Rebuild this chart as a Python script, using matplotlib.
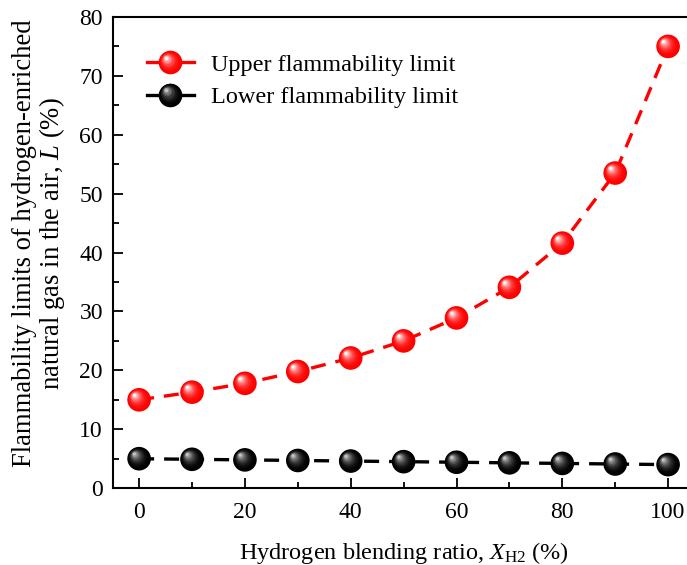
import matplotlib
matplotlib.use("Agg")
import matplotlib.pyplot as plt
import numpy as np
from matplotlib.transforms import offset_copy
from matplotlib.legend_handler import HandlerBase
from matplotlib.lines import Line2D
from matplotlib.colors import to_rgb

plt.rcParams['font.family'] = ['Liberation Serif', 'DejaVu Serif']
plt.rcParams['mathtext.fontset'] = 'custom'
plt.rcParams['mathtext.rm'] = 'Liberation Serif'
plt.rcParams['mathtext.it'] = 'Liberation Serif:italic'

x_ratio = [0, 10, 20, 30, 40, 50, 60, 70, 80, 90, 100]
upper_limit = [15.0, 16.3, 17.8, 19.8, 22.1, 25.0, 28.9, 34.1, 41.6, 53.5, 75.0]
lower_limit = [5.0, 4.9, 4.8, 4.7, 4.6, 4.5, 4.4, 4.3, 4.2, 4.1, 4.0]
series_names = ["Upper flammability limit", "Lower flammability limit"]
series_colors = ["#ff0000", "#000000"]
highlight_colors = ["#ffffff", "#c8c8c8"]
x_ticks = [0, 20, 40, 60, 80, 100]
y_ticks = [0, 10, 20, 30, 40, 50, 60, 70, 80]

fig = plt.figure(figsize=(6.87, 5.65), dpi=100)
ax = fig.add_axes([0.164, 0.136, 0.847, 0.834])

MS = 17.0  # marker diameter in points
NLAY = 10


def layer_specs(base, hi):
    b = np.array(to_rgb(base))
    h = np.array(to_rgb(hi))
    specs = []
    for i in range(NLAY):
        t = i / (NLAY - 1)
        size = MS * (1 - 0.88 * t)
        w = t ** 2.2
        col = b * (1 - w) + h * w
        off = 0.2 * MS * t
        specs.append((size, col, -off, off))
    return specs


def draw_spheres(xs, ys, base, hi, z):
    for k, (size, col, dx, dy) in enumerate(layer_specs(base, hi)):
        tr = offset_copy(ax.transData, fig=fig, x=dx, y=dy, units='points')
        ax.scatter(xs, ys, s=size ** 2, color=[col], edgecolors='none',
                   transform=tr, zorder=z + k * 0.01, clip_on=False)


for ys, base, hi in zip([upper_limit, lower_limit], series_colors, highlight_colors):
    ax.plot(x_ratio, ys, color=base, lw=2.4, linestyle=(0, (4.5, 3.0)), zorder=2)
    draw_spheres(x_ratio, ys, base, hi, 3)


class SphereHandler(HandlerBase):
    def __init__(self, base, hi):
        super().__init__()
        self.base = base
        self.hi = hi

    def create_artists(self, legend, orig_handle, xdescent, ydescent,
                       width, height, fontsize, trans):
        arts = []
        yc = height / 2 - ydescent
        ln = Line2D([-xdescent, width - xdescent], [yc, yc], color=self.base, lw=2.4)
        ln.set_transform(trans)
        arts.append(ln)
        xc = width / 2 - xdescent
        for size, col, dx, dy in layer_specs(self.base, self.hi):
            m = Line2D([xc + dx], [yc + dy], marker='o', markersize=size,
                       markerfacecolor=col, markeredgecolor='none', linestyle='none')
            m.set_transform(trans)
            arts.append(m)
        return arts


h1 = Line2D([], [], color=series_colors[0])
h2 = Line2D([], [], color=series_colors[1])
leg = ax.legend([h1, h2], series_names, loc='upper left',
                bbox_to_anchor=(0.022, 0.968), frameon=False, fontsize=17.5,
                handlelength=1.9, handletextpad=0.7, labelspacing=0.42,
                handler_map={h1: SphereHandler(series_colors[0], highlight_colors[0]),
                             h2: SphereHandler(series_colors[1], highlight_colors[1])})

ax.set_xlim(-5, 105)
ax.set_ylim(0, 80)
ax.set_xticks(x_ticks)
ax.set_yticks(y_ticks)
ax.set_xticks([10, 30, 50, 70, 90], minor=True)
ax.set_yticks([5, 15, 25, 35, 45, 55, 65, 75], minor=True)
ax.tick_params(which='major', direction='in', length=7, width=1.3, labelsize=17)
ax.tick_params(which='minor', direction='in', length=4, width=1.3)
ax.tick_params(axis='x', pad=10)
ax.tick_params(axis='y', pad=7)
for s in ax.spines.values():
    s.set_linewidth(1.5)

ax.set_xlabel(r"Hydrogen blending ratio, $X_{\mathrm{H2}}$ (%)", fontsize=17.5, labelpad=12)
ax.set_ylabel("Flammability limits of hydrogen-enriched\nnatural gas in the air, $L$ (%)",
              fontsize=19.2, linespacing=1.0)
ax.yaxis.set_label_coords(-0.078, 0.52)

fig.savefig("out.png", dpi=100)
